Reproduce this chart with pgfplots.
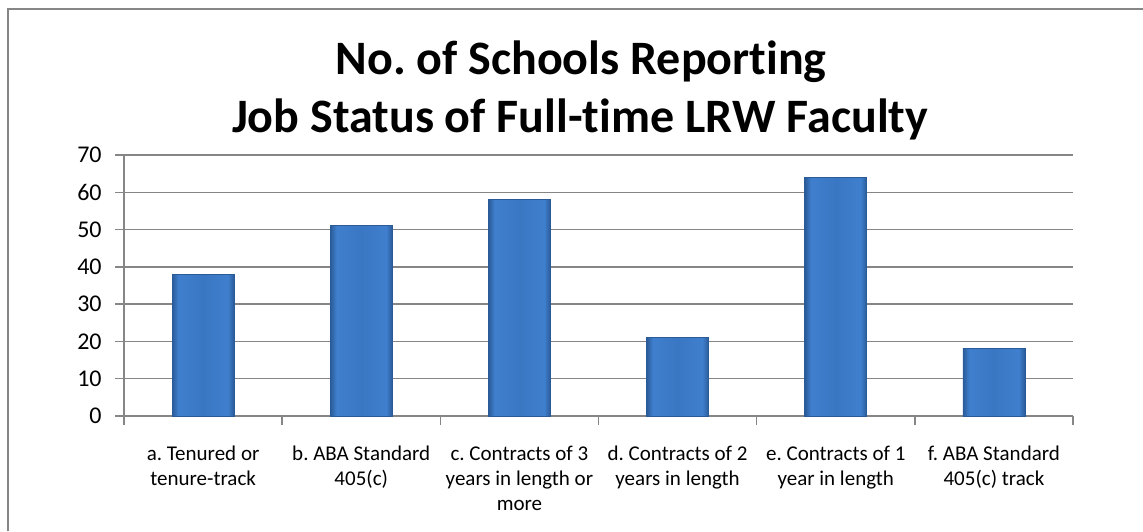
\documentclass[border=0pt]{standalone}
\usepackage{pgfplots}
\pgfplotsset{compat=1.18}
\usepackage{fontspec}
\setmainfont{Carlito}[Ligatures=CommonOff]
\definecolor{gridgray}{HTML}{868686}
\definecolor{barblue}{HTML}{3F7FCD}
\definecolor{barmid}{HTML}{3A77C3}
\definecolor{bardark}{HTML}{2A5B98}
\pgfdeclarehorizontalshading{barshade}{100bp}{
    color(0bp)=(bardark); color(25bp)=(bardark); color(30bp)=(barblue);
    color(50bp)=(barmid); color(70bp)=(barblue); color(75bp)=(bardark);
    color(100bp)=(bardark)}
\pgfplotsset{barstyle/.style={draw=bardark, line width=0.4pt, shading=barshade}}

\begin{document}
\frenchspacing
\begin{tikzpicture}[x=1pt,y=1pt]
\path[use as bounding box] (0,0) rectangle (571.5,265.5);
\draw[gridgray, line width=1.2pt] (4,0) -- (4,261) -- (571.5,261);
% title, two lines
\node[font=\fontsize{24}{28}\selectfont\bfseries, anchor=base] at (290.5,228) {No. of Schools Reporting};
\node[font=\fontsize{24}{28}\selectfont\bfseries, anchor=base] at (290,199.5) {Job Status of Full-time LRW Faculty};
\begin{axis}[
    at={(62pt,57.5pt)}, anchor=south west,
    scale only axis,
    width=474.5pt, height=130.5pt,
    ybar, bar width=31pt, bar shift=0pt,
    xmin=-0.5, xmax=5.5,
    ymin=0, ymax=70,
    ytick={0,10,...,70},
    xtick={-0.5,0.5,...,5.5},
    xticklabels={},
    axis lines*=left,
    axis line style={gridgray, line width=0.75pt},
    tick style={gridgray, line width=0.75pt},
    tick align=outside,
    major tick length=4.5pt,
    ymajorgrids,
    grid style={gridgray, line width=0.75pt},
    /pgf/number format/assume math mode=true,
    yticklabel style={font=\fontsize{12}{14}\selectfont, anchor=east, inner sep=0pt, xshift=-6.5pt},
    extra x ticks={0,1,2,3,4,5},
    extra x tick labels={
        {a. Tenured or\\tenure-track},
        {b. ABA Standard\\405(c)},
        {c. Contracts of 3\\years in length or\\more},
        {d. Contracts of 2\\years in length},
        {e. Contracts of 1\\year in length},
        {f. ABA Standard\\405(c) track}},
    extra x tick style={major tick length=0pt, grid=none,
        xticklabel style={font=\fontsize{10.5}{12.5}\selectfont, align=center, anchor=north, inner sep=0pt, yshift=-15pt}},
]
% one plot per bar so that each bar gets its own shading
\addplot[barstyle] coordinates {(0,38)};
\addplot[barstyle] coordinates {(1,51)};
\addplot[barstyle] coordinates {(2,58)};
\addplot[barstyle] coordinates {(3,21)};
\addplot[barstyle] coordinates {(4,64)};
\addplot[barstyle] coordinates {(5,18)};
\end{axis}
\end{tikzpicture}
\end{document}
